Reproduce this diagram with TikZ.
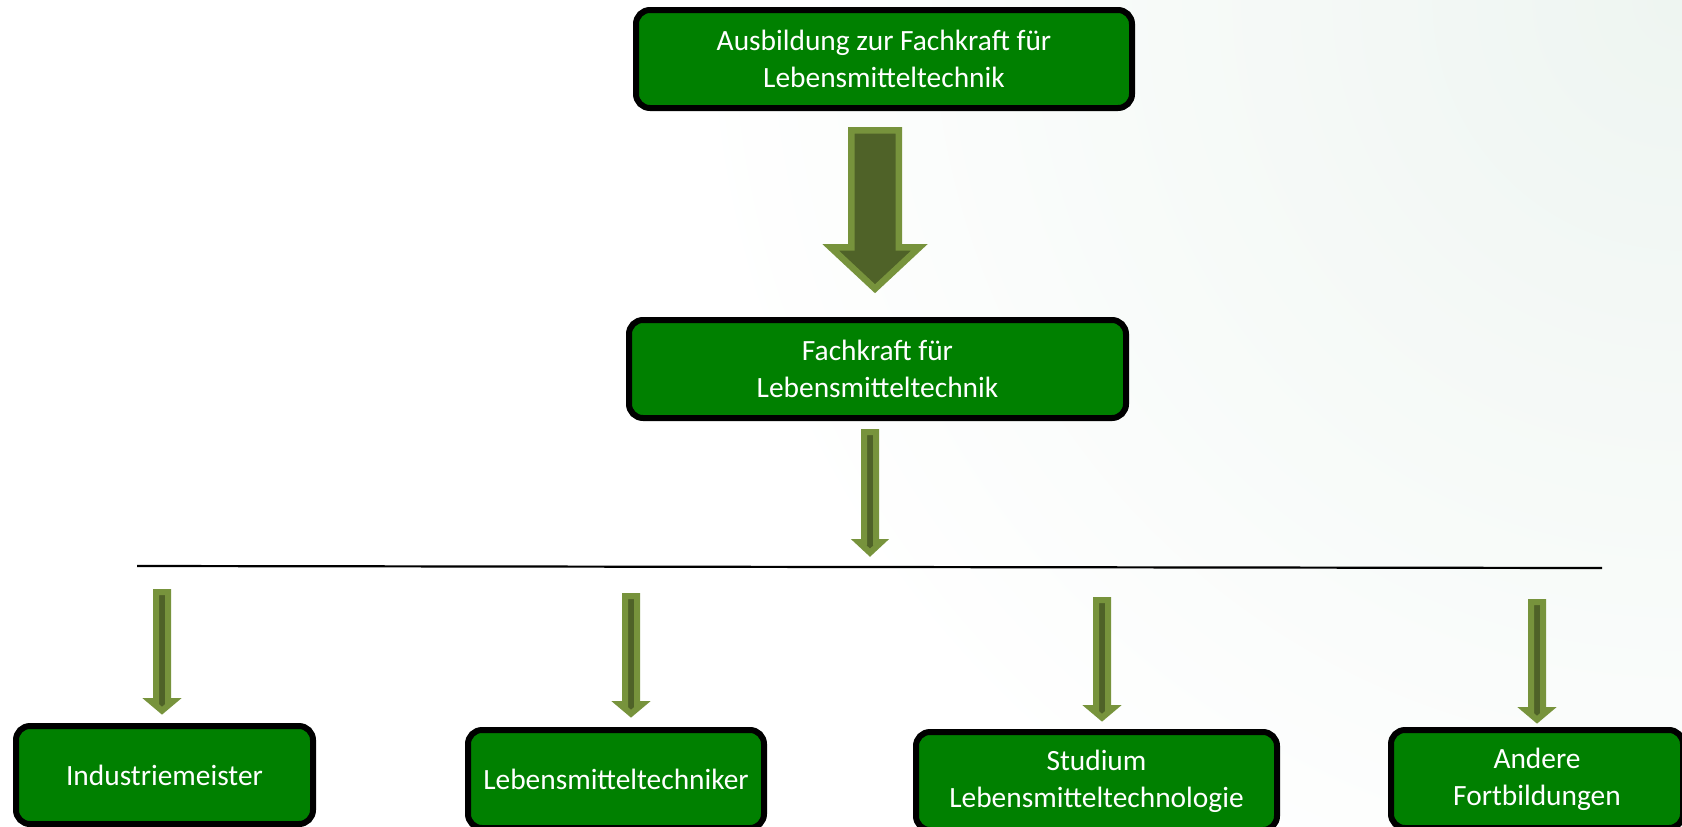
\documentclass[tikz,border=0pt]{standalone}
\usepackage{fontspec}
\setmainfont{Carlito}
\definecolor{boxgreen}{RGB}{0,128,0}
\definecolor{arrowlight}{RGB}{119,147,60}
\definecolor{arrowdark}{RGB}{79,98,40}
\definecolor{bgtint}{RGB}{238,245,241}
% #1 options, #2 centre x, #3 shaft top, #4 head top, #5 tip, #6 shaft half width, #7 head half width
\newcommand{\blockarr}[7][]{%
  \draw[blockarrow,#1] (#2-#6,#3) -- (#2+#6,#3) -- (#2+#6,#4) -- (#2+#7,#4)
    -- (#2,#5) -- (#2-#7,#4) -- (#2-#6,#4) -- cycle;}
\begin{document}
\begin{tikzpicture}[x=0.5pt,y=-0.5pt,
  stepbox/.style={draw=black, line width=3pt, fill=boxgreen, rounded corners=7pt,
    text=white, align=center, font=\fontsize{14.7}{18.5}\selectfont, inner sep=0pt,
    minimum height=49pt},
  blockarrow/.style={draw=arrowlight, fill=arrowdark, line width=3pt, line join=miter},
  rule/.style={draw=black, line width=1.1pt}]
\clip (0,0) rectangle (1682,826);
\fill[white] (0,0) rectangle (1682,826);
\shade[inner color=bgtint, outer color=white] (1682,0) circle (1000);

% boxes
\node[stepbox, minimum width=248pt] (top) at (884,59) {Ausbildung zur Fachkraft für\\Lebensmitteltechnik};
\node[stepbox, minimum width=248.5pt] (fk) at (877.5,369) {Fachkraft für\\Lebensmitteltechnik};
\node[stepbox, minimum width=148.5pt] (b1) at (164.5,775) {Industriemeister};
\node[stepbox, minimum width=148pt] (b2) at (616,779) {Lebensmitteltechniker};
\node[stepbox, minimum width=180.5pt] (b3) at (1096.5,781) {Studium\\Lebensmitteltechnologie};
\node[stepbox, minimum width=146pt] (b4) at (1537,779) {Andere\\Fortbildungen};

% separator line
\coordinate (ruleL) at (137,566);
\coordinate (ruleR) at (1602,568);
\draw[rule] (ruleL) -- (ruleR);

% arrows
\blockarr[line width=3.25pt]{875}{130.25}{247.25}{288.75}{23.75}{44.5}
\blockarr{870}{432}{542}{552.7}{6}{11.5}
\blockarr{162}{592}{701}{710.7}{6}{11.5}
\blockarr{631}{596}{704}{713.7}{6}{11.5}
\blockarr{1102}{600}{708}{717.7}{6}{11.5}
\blockarr{1537}{602}{710}{719.7}{6}{11.5}
\end{tikzpicture}
\end{document}
